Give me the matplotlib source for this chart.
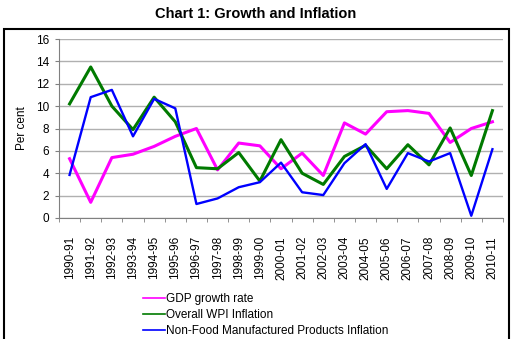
import matplotlib
matplotlib.use('Agg')
import matplotlib.pyplot as plt
from matplotlib.patches import Rectangle

plt.rcParams['font.family'] = ['Liberation Sans', 'DejaVu Sans']

years = ['1990-91', '1991-92', '1992-93', '1993-94', '1994-95', '1995-96',
         '1996-97', '1997-98', '1998-99', '1999-00', '2000-01', '2001-02',
         '2002-03', '2003-04', '2004-05', '2005-06', '2006-07', '2007-08',
         '2008-09', '2009-10', '2010-11']
gdp = [5.3, 1.4, 5.4, 5.7, 6.4, 7.3, 8.0, 4.3, 6.7, 6.45, 4.4, 5.8,
       3.8, 8.5, 7.5, 9.5, 9.6, 9.35, 6.75, 8.0, 8.6]
wpi = [10.2, 13.5, 10.0, 7.9, 10.8, 8.6, 4.5, 4.4, 5.85, 3.3, 7.0, 4.0,
       3.0, 5.5, 6.5, 4.4, 6.55, 4.75, 8.05, 3.8, 9.6]
nonfood = [3.85, 10.8, 11.45, 7.3, 10.65, 9.8, 1.25, 1.75, 2.75, 3.2, 4.95, 2.3,
           2.05, 4.9, 6.6, 2.6, 5.8, 5.05, 5.8, 0.2, 6.15]
labels = ['GDP growth rate', 'Overall WPI Inflation',
          'Non-Food Manufactured Products Inflation']

fig = plt.figure(figsize=(5.11, 3.39), dpi=100)
ax = fig.add_axes([59/511, 1 - 218/339, 444/511, 179/339])

x = range(len(years))
ax.plot(x, gdp, color='#ff00ff', lw=2.2, label=labels[0])
ax.plot(x, wpi, color='#007a00', lw=2.2, label=labels[1])
ax.plot(x, nonfood, color='#0000ff', lw=1.7, label=labels[2])

ax.set_xlim(-0.5, len(years) - 0.5)
ax.set_ylim(0, 16)
ax.set_yticks(range(0, 17, 2))
ax.set_xticks(list(x))
ax.set_xticklabels(years, rotation=90, fontsize=8.5)
ax.set_xticks([i + 0.5 for i in range(-1, len(years))], minor=True)
ax.tick_params(axis='x', which='major', length=0, pad=13)
ax.tick_params(axis='x', which='minor', length=3, color='#808080', direction='out')
ax.tick_params(axis='y', length=3, color='#808080', labelsize=8.5, pad=4)
ax.grid(axis='y', color='#b0b0b0', lw=1)
ax.set_axisbelow(True)
for s in ['top', 'right']:
    ax.spines[s].set_visible(False)
ax.spines['left'].set_color('#808080')
ax.spines['bottom'].set_color('#808080')
ax.set_ylabel('Per cent', fontsize=8.5, labelpad=6)

fig.text(0.5, 1 - 14/339, 'Chart 1: Growth and Inflation', ha='center',
         va='center', fontsize=10.5, fontweight='bold')

leg = fig.legend(loc='upper left', bbox_to_anchor=(143/511, 1 - 293/339),
                 frameon=False, fontsize=8.5, handlelength=1.85,
                 handletextpad=0.1, labelspacing=0.35, borderaxespad=0,
                 borderpad=0)
for h in leg.get_lines():
    h.set_linewidth(1.2)

fig.patches.append(Rectangle((4/511, -0.05), 505/511, 1.05 - 29/339,
                             transform=fig.transFigure, fill=False,
                             edgecolor='black', lw=1.5))

fig.savefig('out.png', dpi=100)
